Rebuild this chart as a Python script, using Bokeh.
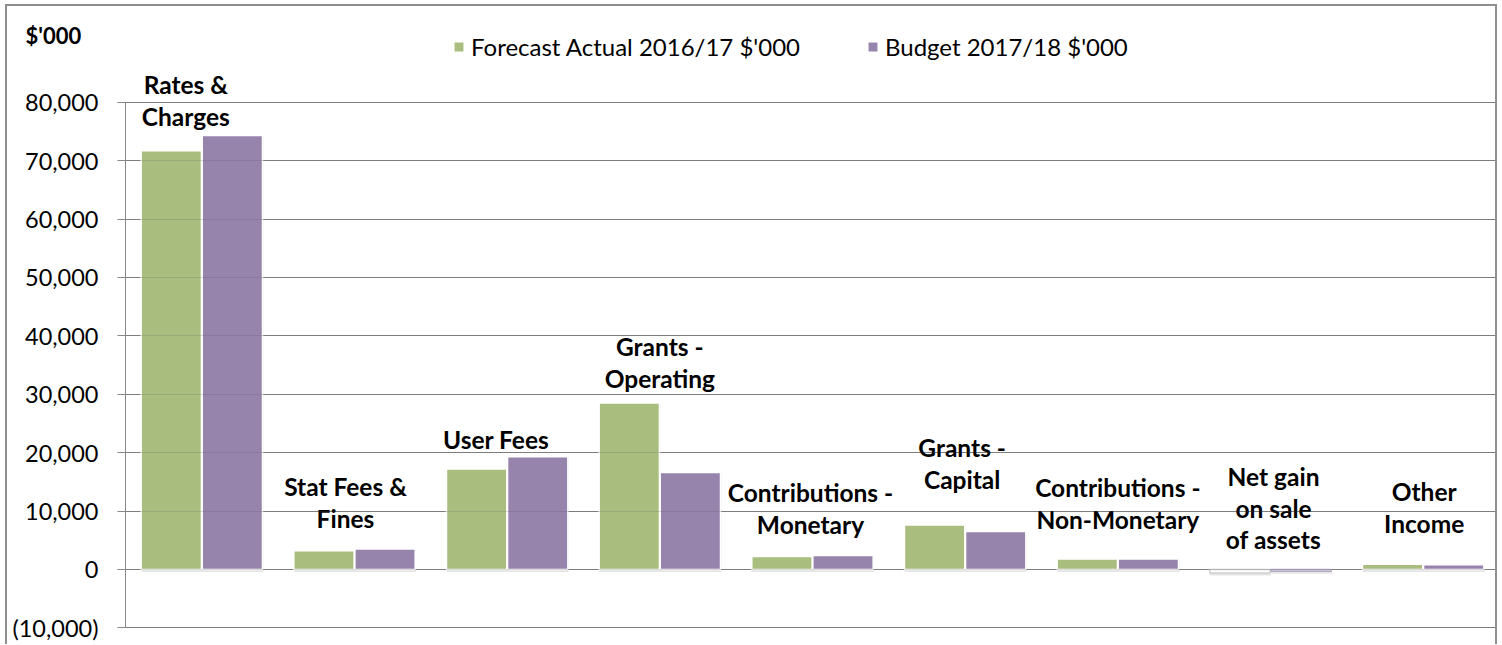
from bokeh.plotting import figure
from bokeh.models import (ColumnDataSource, Range1d, FactorRange, FixedTicker,
                          NumeralTickFormatter, Legend, LegendItem, Label, Grid)
from bokeh.transform import dodge
from bokeh.core.properties import value
from bokeh.embed import file_html
from bokeh.resources import INLINE

# ---------------- data ----------------
categories = ["Rates & Charges", "Stat Fees & Fines", "User Fees", "Grants - Operating",
              "Contributions - Monetary", "Grants - Capital", "Contributions - Non-Monetary",
              "Net gain on sale of assets", "Other Income"]
label_texts = ["Rates &\nCharges", "Stat Fees &\nFines", "User Fees", "Grants -\nOperating",
               "Contributions -\nMonetary", "Grants -\nCapital", "Contributions -\nNon-Monetary",
               "Net gain\non sale\nof assets", "Other\nIncome"]
forecast_2016_17 = [71700, 3200, 17200, 28500, 2200, 7600, 1800, -600, 900]
budget_2017_18 = [74300, 3500, 19300, 16600, 2400, 6500, 1800, -300, 800]
series_names = ["Forecast Actual 2016/17 $'000", "Budget 2017/18 $'000"]
y_ticks = [-10000, 0, 10000, 20000, 30000, 40000, 50000, 60000, 70000, 80000]
unit_label = "$'000"

# ---------------- style ----------------
GREEN = "#a9be7e"
PURPLE = "#9784ad"
GRID = "#888888"
FONT = "Lato"
label_dx = [-16, -9, -11, 0, -2, -3, 0, 3, 1]      # px
label_gap = [11, 22, 9, 16, 22, 37, 31, 21, 32]    # px above highest bar

p = figure(width=1492, height=640,
           x_range=FactorRange(factors=categories, range_padding=0),
           y_range=Range1d(-10290, 91770),
           output_backend="svg", toolbar_location=None,
           min_border_left=118, min_border_right=0,
           min_border_top=0, min_border_bottom=17)
p.styles = {"border-top": "2px solid #8f8f8f", "border-left": "2px solid #8f8f8f",
            "border-right": "2px solid #8f8f8f", "margin-left": "5px", "margin-top": "4px"}
p.outline_line_color = None
p.xaxis.visible = False
p.xgrid.visible = False

ticker = FixedTicker(ticks=y_ticks)
p.yaxis.ticker = ticker
p.yaxis.bounds = (y_ticks[0], y_ticks[-1])
p.yaxis.formatter = NumeralTickFormatter(format="(0,0)")
p.yaxis.axis_line_color = GRID
p.yaxis.major_tick_line_color = GRID
p.yaxis.major_tick_out = 8
p.yaxis.major_tick_in = 0
p.yaxis.minor_tick_line_color = None
p.yaxis.major_label_text_font = FONT
p.yaxis.major_label_text_font_size = "23.5px"
p.yaxis.major_label_text_color = "#000000"
p.yaxis.major_label_standoff = 19

p.ygrid.ticker = ticker
p.ygrid.grid_line_color = GRID
p.ygrid.grid_line_width = 1

src = ColumnDataSource(dict(
    cat=categories,
    g=forecast_2016_17,
    b=budget_2017_18,
    gfill=[GREEN if v >= 0 else "white" for v in forecast_2016_17],
    bfill=[PURPLE if v >= 0 else "white" for v in budget_2017_18],
    gline=["white" if v >= 0 else "#d0d0d0" for v in forecast_2016_17],
    bline=["white" if v >= 0 else "#b7acc8" for v in budget_2017_18],
    gbot=[min(v, 0) - 450 for v in forecast_2016_17],
    bbot=[min(v, 0) - 450 for v in budget_2017_18],
    gtop=[max(v, 0) for v in forecast_2016_17],
    btop=[max(v, 0) for v in budget_2017_18],
))

# soft drop shadow under the bars
p.vbar(x=dodge("cat", -0.197, range=p.x_range), top="gtop", bottom="gbot", width=0.40,
       fill_color="#000000", fill_alpha=0.10, line_color=None, source=src)
p.vbar(x=dodge("cat", 0.203, range=p.x_range), top="btop", bottom="bbot", width=0.40,
       fill_color="#000000", fill_alpha=0.10, line_color=None, source=src)

rg = p.vbar(x=dodge("cat", -0.2, range=p.x_range), top="g", bottom=0, width=0.395,
            fill_color="gfill", line_color="gline", line_width=1.5, source=src)
rb = p.vbar(x=dodge("cat", 0.2, range=p.x_range), top="b", bottom=0, width=0.395,
            fill_color="bfill", line_color="bline", line_width=1.5, source=src)

# faint grid over the bars (as in the original)
p.add_layout(Grid(dimension=1, ticker=ticker, grid_line_color="#555555",
                  grid_line_alpha=0.22, level="overlay"))

lsrc = ColumnDataSource(dict(
    cat=categories,
    txt=label_texts,
    y=[max(a, b, 0) for a, b in zip(forecast_2016_17, budget_2017_18)],
    dx=label_dx,
    dy=[-(g - 6) for g in label_gap],
))
p.text(x="cat", y="y", text="txt", x_offset="dx", y_offset="dy", source=lsrc,
       text_align="center", text_baseline="bottom", text_font=value(FONT),
       text_font_style="bold", text_font_size="24.5px", text_line_height=1.1,
       text_color="#000000")

legend = Legend(items=[LegendItem(label=series_names[0], renderers=[rg], index=0),
                       LegendItem(label=series_names[1], renderers=[rb], index=0)],
                orientation="horizontal", location=(327, 568), padding=0, margin=0,
                spacing=66, glyph_width=13, glyph_height=13, label_standoff=6,
                label_text_font=FONT, label_text_font_size="24px",
                label_text_color="#000000",
                background_fill_alpha=0, border_line_color=None)
p.add_layout(legend)

p.add_layout(Label(x=-100, y=-1.5, x_units="screen", y_units="screen", text=unit_label,
                   text_font=FONT, text_font_style="bold", text_font_size="22px",
                   text_color="#000000", text_baseline="middle"), "above")

open("out.html", "w").write(file_html(p, INLINE))
